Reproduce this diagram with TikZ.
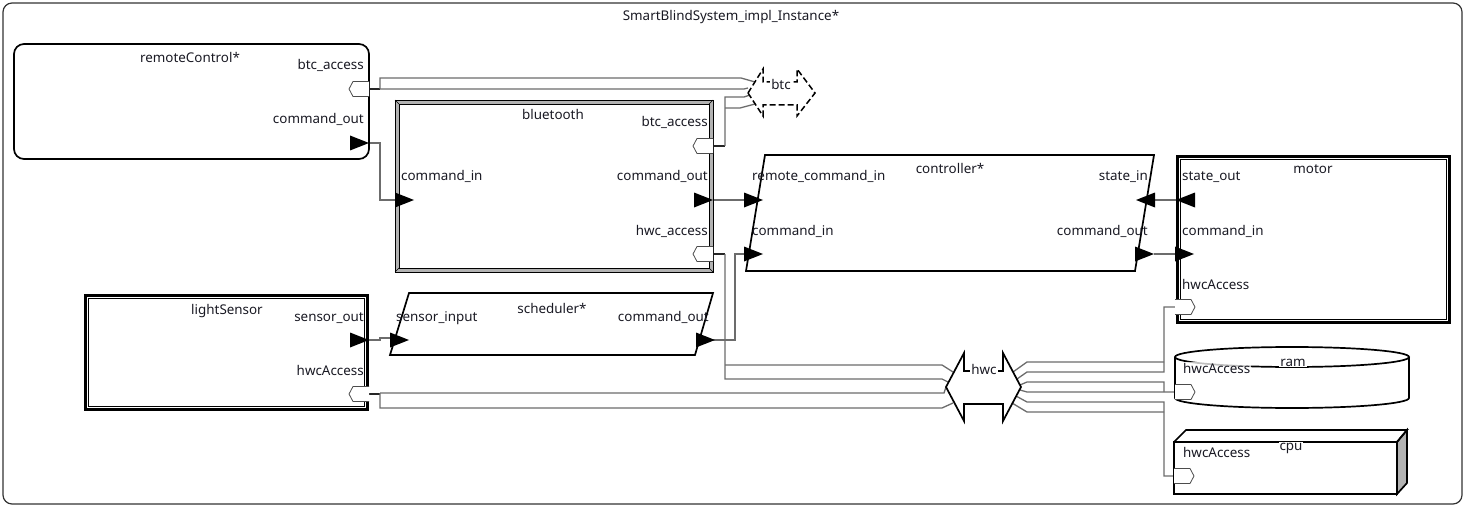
\documentclass[tikz,border=0pt]{standalone}
\usepackage{fontspec}
\setmainfont{Noto Sans}
\definecolor{linkgray}{RGB}{108,108,108}
\definecolor{labeltext}{RGB}{25,25,35}
\tikzset{
	compbox/.style={draw,line width=1.7pt},
	link/.style={draw=linkgray,line width=1.3pt},
	stub/.style={draw=black!85,line width=1.3pt},
	lbl/.style={inner sep=0pt,text=labeltext,font=\fontsize{13.4}{15}\selectfont},
	dport/.pic={\fill(-19,-7.5)--(0,0)--(-19,7.5)--cycle;},
	aport/.pic={\draw[fill=white,draw=black!70,line width=.8pt](0,-7.5)--(-16,-7.5)--(-20,0)--(-16,7.5)--(0,7.5);},
}
\begin{document}
\begin{tikzpicture}[x=1pt,y=-1pt,every node/.style={lbl}]
		\useasboundingbox(0,0)rectangle(1465,508);
		\draw[line width=1.2pt,draw=black!80,rounded corners=9pt](3,3)rectangle(1462,504);
		\node[anchor=base](sysName)at(731,21){SmartBlindSystem\_impl\_Instance*};
		\coordinate(rcBtc)at(369,89);
		\coordinate(rcCmd)at(369,143);
		\coordinate(btBtc)at(713,146);
		\coordinate(btCmdIn)at(396,200);
		\coordinate(btCmdOut)at(713,200);
		\coordinate(btHwc)at(713,254);
		\coordinate(ctRemIn)at(746,200);
		\coordinate(ctCmdIn)at(746,254);
		\coordinate(ctStateIn)at(1154,200);
		\coordinate(ctCmdOut)at(1154,254);
		\coordinate(moStateOut)at(1176,200);
		\coordinate(moCmdIn)at(1176,254);
		\coordinate(moHwc)at(1175,307);
		\coordinate(lsOut)at(369,340);
		\coordinate(lsHwc)at(369,394);
		\coordinate(scIn)at(390,340);
		\coordinate(scOut)at(713,340);
		\coordinate(raHwc)at(1175,392);
		\coordinate(cpHwc)at(1174,476);
		\coordinate(btcL)at(748,93);
		\coordinate(hwcL)at(946,387);
		\coordinate(hwcR)at(1021,387);
		\draw[stub](rcBtc)--(380,89);
		\draw[link](380,89)--(380,78)--(741,78)--(755,82);
		\draw[link](380,89)--(744,89)--(btcL|-0,88);
		\draw[stub](btBtc)--(725,146);
		\draw[link](725,146)--(725,97)--(744,97)--(750,95);
		\draw[link](725,108)--(740,108)--(755,104);
		\draw[link](rcCmd)--(380,143)--(380,200)--(btCmdIn);
		\draw[link](btCmdOut)--(ctRemIn);
		\draw[stub](btHwc)--(725,254);
		\draw[link](725,254)--(725,379)--(942,379)--(948,382);
		\draw[link](725,365)--(942,365)--(953,372);
		\draw[link](scOut)--(735,340)--(735,254)--(ctCmdIn);
		\draw[link](lsOut)--(380,340)--(380,338)--(scIn|-0,338);
		\draw[stub](lsHwc)--(380,394);
		\draw[link](380,393)--(944,393)--(hwcL);
		\draw[link](380,393)--(380,408)--(942,408)--(953,403);
		\draw[link](ctStateIn)--(moStateOut);
		\draw[link](ctCmdOut)--(moCmdIn);
		\draw[link](1013,372)--(1027,362)--(1164,362);
		\draw[link](1017,379)--(1027,372)--(1164,372)--(1164,307)--(moHwc);
		\draw[link](1020,385)--(1027,382)--(1164,382)--(1164,392);
		\draw[link](1020,390)--(1027,392)--(raHwc);
		\draw[link](1016,396)--(1027,402)--(1164,402)--(1164,476)--(cpHwc);
		\draw[link](1012,403)--(1027,412)--(1164,412);
		\draw[compbox,rounded corners=10pt](14,44)rectangle(369,159);
		\node[anchor=base](rcName)at(190,63){remoteControl*};
		\node[anchor=base east](rcBtcL)at(364,70){btc\_access};
		\node[anchor=base east](rcCmdL)at(364,124){command\_out};
		\fill[gray!60](395,100)rectangle(713,272);
		\draw[line width=.9pt](395,100)rectangle(713,272);
		\draw[fill=white,line width=.9pt](399,104)rectangle(709,268);
		\foreach\a/\b/\c/\d in{395/100/399/104,713/100/709/104,713/272/709/268,395/272/399/268}{\draw[line width=.5pt](\a,\b)--(\c,\d);}
		\node[anchor=base](btName)at(553,120){bluetooth};
		\node[anchor=base east](btBtcL)at(708,127){btc\_access};
		\node[anchor=base east](btCmdOutL)at(708,181){command\_out};
		\node[anchor=base east](btHwcL)at(708,235){hwc\_access};
		\node[anchor=base west](btCmdInL)at(401,181){command\_in};
		\draw[compbox](765,155)--(1154,155)--(1135,271)--(746,271)--cycle;
		\node[anchor=base](ctName)at(950,174){controller*};
		\node[anchor=base west](ctRemInL)at(752,181){remote\_command\_in};
		\node[anchor=base west](ctCmdInL)at(752,235){command\_in};
		\node[anchor=base east](ctStateInL)at(1148,181){state\_in};
		\node[anchor=base east](ctCmdOutL)at(1148,235){command\_out};
		\foreach\a/\b/\c/\d in{84/294/369/411,1176/155/1451/324}{
			\draw[line width=2.5pt](\a+1.3,\b+1.3)rectangle(\c-1.3,\d-1.3);
			\draw[line width=.8pt](\a+4.5,\b+4.5)rectangle(\c-4.5,\d-4.5);}
		\node[anchor=base](moName)at(1313,174){motor};
		\node[anchor=base west](moStateOutL)at(1182,181){state\_out};
		\node[anchor=base west](moCmdInL)at(1182,235){command\_in};
		\node[anchor=base west](moHwcL)at(1182,289){hwcAccess};
		\node[anchor=base](lsName)at(227,314){lightSensor};
		\node[anchor=base east](lsOutL)at(364,321){sensor\_out};
		\node[anchor=base east](lsHwcL)at(364,375){hwcAccess};
		\draw[compbox](409,293)--(713,293)--(695,355)--(390,355)--cycle;
		\node[anchor=base](scName)at(552,313){scheduler*};
		\node[anchor=base west](scInL)at(396,321){sensor\_input};
		\node[anchor=base east](scOutL)at(709,321){command\_out};
		\draw[compbox](1292,357)ellipse(117 and 10);
		\draw[compbox](1175,357)--(1175,398)arc(180:0:117 and 10)--(1409,357);
		\node[anchor=base west,fill=white,fill opacity=.75,text opacity=1,inner sep=1pt](raHwcL)at(1182,373){hwcAccess};
		\node[anchor=base,fill=white,inner sep=1pt](raName)at(1293,366){ram};
		\draw[compbox,fill=gray!60](1397,442)--(1407,430)--(1407,483)--(1397,494)--cycle;
		\draw[compbox](1174,442)--(1186,430)--(1407,430)--(1397,442);
		\draw[compbox](1174,442)rectangle(1397,494);
		\node[anchor=base west,fill=white,fill opacity=.75,text opacity=1,inner sep=1pt](cpHwcL)at(1182,457){hwcAccess};
		\node[anchor=base,fill=white,inner sep=1pt](cpName)at(1291,450){cpu};
		\draw[dashed,dash pattern=on 6pt off 3pt,line width=1.5pt,fill=white](btcL)--(763,69)--(763,82)--(797,82)--(797,69)--(815,93)--(797,116)--(797,105)--(763,105)--(763,116)--cycle;
		\node[fill=white,inner sep=1pt](btc)at(781,84){btc};
		\draw[line width=1.7pt,fill=white](hwcL)--(964,353)--(964,371)--(1003,371)--(1003,353)--(hwcR)--(1003,421)--(1003,404)--(964,404)--(964,421)--cycle;
		\node[fill=white,inner sep=1pt](hwc)at(984,369){hwc};
		\foreach\x/\y/\r in{369/143/0,414/200/0,713/200/0,763/200/0,763/254/0,1136/200/180,1154/254/0,1176/200/180,1194/254/0,369/340/0,409/340/0,715/340/0}{\pic[rotate=\r]at(\x,\y){dport};}
		\foreach\x/\y/\r in{369/89/0,713/146/0,713/254/0,369/394/0,1175/307/180,1175/392/180,1174/476/180}{\pic[rotate=\r]at(\x,\y){aport};}
		\end{tikzpicture}
\end{document}
